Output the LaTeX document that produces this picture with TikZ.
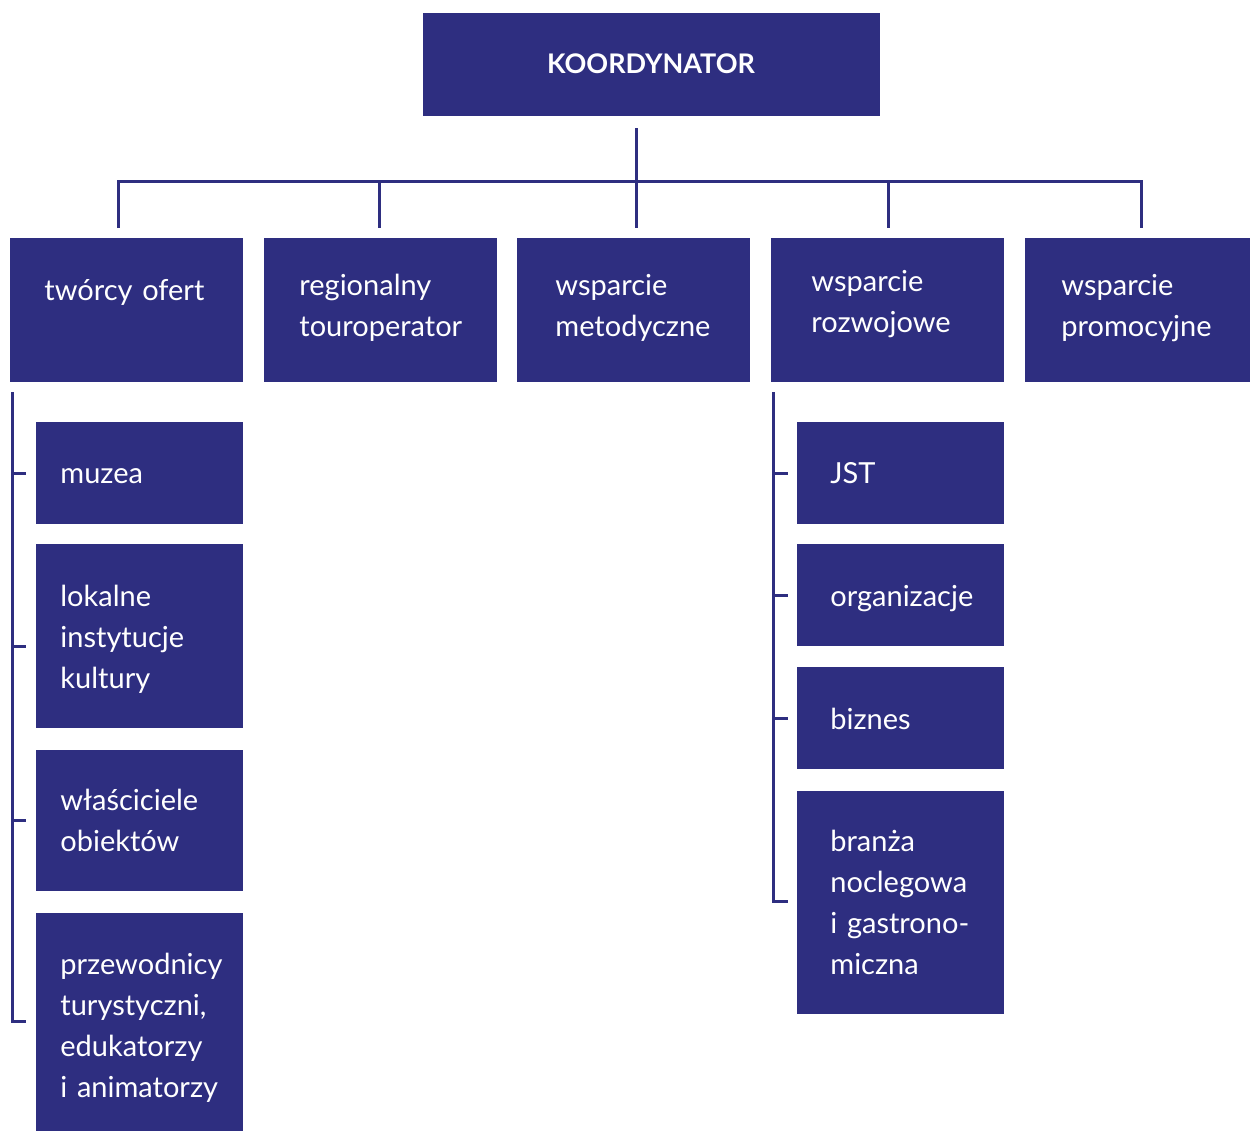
\documentclass[tikz,border=0pt]{standalone}
\usepackage{fontspec}
\setmainfont{Lato}
\definecolor{navy}{RGB}{46,46,128}
\begin{document}
\begin{tikzpicture}[x=0.5pt,y=-0.5pt,
  box/.style={fill=navy,draw=none,anchor=north west,inner sep=0pt,outer sep=0pt},
  lbl/.style={anchor=base west,inner sep=0pt,text=white,font=\fontsize{14.5pt}{20.5pt}\selectfont,
              align=left,text width=110pt},
  conn/.style={draw=navy,line width=1.5pt}]
\useasboundingbox (0,0) rectangle (1250,1131);

% coordinator
\node[box,minimum width=228.5pt,minimum height=51.5pt] (koord) at (423,13) {};
\node[text=white,font=\fontsize{13.5pt}{16pt}\selectfont\bfseries] (koordt) at (651,64) {KOORDYNATOR};

% first level
\node[box,minimum width=116.5pt,minimum height=72pt] (tworcy) at (10,238) {};
\node[box,minimum width=116.5pt,minimum height=72pt] (region) at (264,238) {};
\node[box,minimum width=116.5pt,minimum height=72pt] (metod) at (517,238) {};
\node[box,minimum width=116.5pt,minimum height=72pt] (rozw) at (771,238) {};
\node[box,minimum width=112.5pt,minimum height=72pt] (promo) at (1025,238) {};

\node[lbl] (tworcyt) at (44,300) {twórcy ofert};
\node[lbl] (regiont) at (299,295) {regionalny\\touroperator};
\node[lbl] (metodt) at (555,295) {wsparcie\\metodyczne};
\node[lbl] (rozwt) at (811,291) {wsparcie\\rozwojowe};
\node[lbl] (promot) at (1061,295) {wsparcie\\promocyjne};

% left column
\node[box,minimum width=103.5pt,minimum height=51pt] (muzea) at (36,422) {};
\node[box,minimum width=103.5pt,minimum height=92pt] (lokal) at (36,544) {};
\node[box,minimum width=103.5pt,minimum height=70.5pt] (wlasc) at (36,750) {};
\node[box,minimum width=103.5pt,minimum height=109pt] (przew) at (36,913) {};

\node[lbl] (muzeat) at (60,483) {muzea};
\node[lbl] (lokalt) at (60,606) {lokalne\\instytucje\\kultury};
\node[lbl] (wlasct) at (60,810) {właściciele\\obiektów};
\node[lbl] (przewt) at (60,974) {przewodnicy\\turystyczni,\\edukatorzy\\i animatorzy};

% right column
\node[box,minimum width=103.5pt,minimum height=51pt] (jst) at (797,422) {};
\node[box,minimum width=103.5pt,minimum height=51pt] (org) at (797,544) {};
\node[box,minimum width=103.5pt,minimum height=51pt] (biz) at (797,667) {};
\node[box,minimum width=103.5pt,minimum height=111.5pt] (branza) at (797,791) {};

\node[lbl] (jstt) at (830,483) {JST};
\node[lbl] (orgt) at (830,606) {organizacje};
\node[lbl] (bizt) at (830,729) {biznes};
\node[lbl] (branzat) at (830,851) {branża\\noclegowa\\i gastrono-\\miczna};

% tree connectors
\coordinate (hub) at (636,181);
\coordinate (d1) at (118,228);
\coordinate (d2) at (379,228);
\coordinate (d3) at (636,228);
\coordinate (d4) at (888,228);
\coordinate (d5) at (1141,228);
\draw[conn] ([yshift=-6pt]koord.south -| hub) -- (d3);
\draw[conn] (d1) -- (d1 |- hub) -- (d5 |- hub) -- (d5);
\draw[conn] (d2 |- hub) -- (d2);
\draw[conn] (d4 |- hub) -- (d4);

% left bracket
\coordinate (lt) at (12,392);
\coordinate (lb) at (26,1021);
\draw[conn] (lt) |- (lb);
\draw[conn] (lt |- muzea.west) -- ([xshift=-5pt]muzea.west);
\draw[conn] ([yshift=-5pt]lt |- lokal.west) -- ([xshift=-5pt,yshift=-5pt]lokal.west);
\draw[conn] (lt |- wlasc.west) -- ([xshift=-5pt]wlasc.west);

% right bracket
\coordinate (rt) at (773,392);
\coordinate (rb) at (788,901);
\draw[conn] (rt) |- (rb);
\draw[conn] (rt |- jst.west) -- ([xshift=-4.5pt]jst.west);
\draw[conn] (rt |- org.west) -- ([xshift=-4.5pt]org.west);
\draw[conn] (rt |- biz.west) -- ([xshift=-4.5pt]biz.west);
\end{tikzpicture}
\end{document}
